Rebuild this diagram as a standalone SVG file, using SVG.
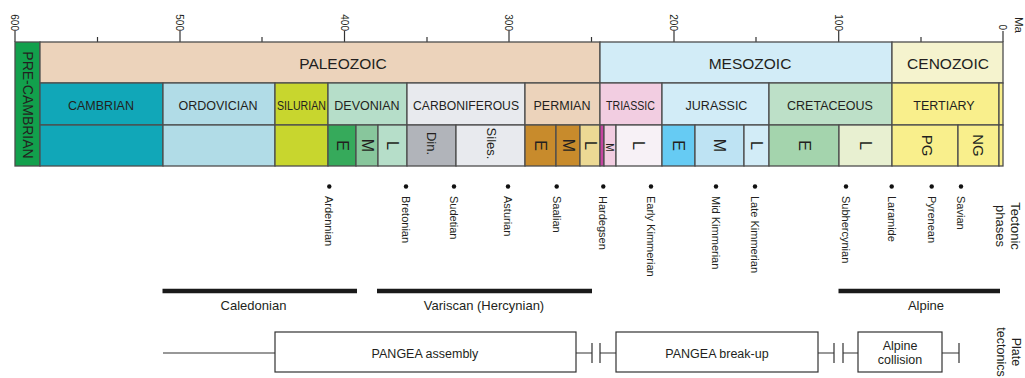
<svg xmlns="http://www.w3.org/2000/svg" width="1025" height="378" viewBox="0 0 1025 378">
<style>
text{font-family:"Liberation Sans",Arial,Helvetica,sans-serif;fill:#231f20}
.c{stroke:#4d4d4d;stroke-width:1.3}
.era{font-size:15.5px;text-anchor:middle}
.per{font-size:12.5px;text-anchor:middle}
.ep{font-size:16px;text-anchor:middle}
.ph{font-size:11px}
.tk{font-size:10px;text-anchor:end}
.tick{stroke:#333;stroke-width:1.2}
.oro{stroke:#1a1a1a;stroke-width:4.5}
.lab{font-size:13px;text-anchor:middle}
.box{fill:#fff;stroke:#333;stroke-width:1.2}
.ln{stroke:#333;stroke-width:1.2;fill:none}
.side{font-size:13px;text-anchor:middle}
</style>
<rect width="1025" height="378" fill="#fff"/>

<g id="axis">
  <g class="tick">
    <line x1="15" y1="31" x2="15" y2="42"/>
    <line x1="180" y1="31" x2="180" y2="42"/>
    <line x1="344.5" y1="31" x2="344.5" y2="42"/>
    <line x1="509" y1="31" x2="509" y2="42"/>
    <line x1="674" y1="31" x2="674" y2="42"/>
    <line x1="838.7" y1="31" x2="838.7" y2="42"/>
    <line x1="1003" y1="31" x2="1003" y2="42"/>
    <line x1="97.5" y1="37" x2="97.5" y2="42"/>
    <line x1="262" y1="37" x2="262" y2="42"/>
    <line x1="427" y1="37" x2="427" y2="42"/>
    <line x1="591.5" y1="37" x2="591.5" y2="42"/>
    <line x1="756" y1="37" x2="756" y2="42"/>
    <line x1="921" y1="37" x2="921" y2="42"/>
  </g>
  <text class="tk" transform="translate(15,31) rotate(90)" y="3.6">600</text>
  <text class="tk" transform="translate(180,31) rotate(90)" y="3.6">500</text>
  <text class="tk" transform="translate(344.5,31) rotate(90)" y="3.6">400</text>
  <text class="tk" transform="translate(509,31) rotate(90)" y="3.6">300</text>
  <text class="tk" transform="translate(674,31) rotate(90)" y="3.6">200</text>
  <text class="tk" transform="translate(838.7,31) rotate(90)" y="3.6">100</text>
  <text class="tk" transform="translate(1003,30) rotate(90)" y="3.6">0</text>
  <text style="font-size:11.5px" transform="translate(1014.5,17) rotate(90)">Ma</text>
</g>

<g id="eras">
  <g id="precambrian">
    <rect class="c" x="15" y="42" width="25" height="124" fill="#12a04c"/>
    <text style="font-size:14px;text-anchor:middle" transform="translate(27.5,105) rotate(90)" y="5">PRE-CAMBRIAN</text>
  </g>
  <g id="paleozoic">
    <rect class="c" x="40" y="42" width="560" height="41" fill="#ecd3bb"/>
    <text class="era" x="343" y="69">PALEOZOIC</text>
  </g>
  <g id="mesozoic">
    <rect class="c" x="600" y="42" width="292" height="41" fill="#d2ecf7"/>
    <text class="era" x="750" y="69">MESOZOIC</text>
  </g>
  <g id="cenozoic">
    <rect class="c" x="892" y="42" width="111" height="41" fill="#f5f3ce"/>
    <text class="era" x="948" y="69">CENOZOIC</text>
  </g>
</g>

<g id="periods">
  <g id="cambrian">
    <rect class="c" x="40" y="83" width="123" height="42" fill="#11a7b8"/>
    <rect class="c" x="40" y="125" width="123" height="41" fill="#11a7b8"/>
    <text class="per" x="101" y="110">CAMBRIAN</text>
  </g>
  <g id="ordovician">
    <rect class="c" x="163" y="83" width="112" height="42" fill="#b1dce7"/>
    <rect class="c" x="163" y="125" width="112" height="41" fill="#b1dce7"/>
    <text class="per" x="218" y="110">ORDOVICIAN</text>
  </g>
  <g id="silurian">
    <rect class="c" x="275" y="83" width="53" height="42" fill="#c8d62e"/>
    <rect class="c" x="275" y="125" width="53" height="41" fill="#c8d62e"/>
    <text class="per" x="301.5" y="110" textLength="49" lengthAdjust="spacingAndGlyphs">SILURIAN</text>
  </g>
  <g id="devonian">
    <rect class="c" x="328" y="83" width="79" height="42" fill="#b6dec9"/>
    <text class="per" x="367" y="110">DEVONIAN</text>
    <rect class="c" x="328" y="125" width="28" height="41" fill="#36aa5b"/>
    <rect class="c" x="356" y="125" width="22" height="41" fill="#88c69c"/>
    <rect class="c" x="378" y="125" width="29" height="41" fill="#b6dec9"/>
    <text class="ep" transform="translate(342,145.5) rotate(90)" y="5.5">E</text>
    <text class="ep" transform="translate(367,145.5) rotate(90)" y="5.5">M</text>
    <text class="ep" transform="translate(392,145.5) rotate(90)" y="5.5">L</text>
  </g>
  <g id="carboniferous">
    <rect class="c" x="407" y="83" width="118" height="42" fill="#e8eaee"/>
    <text class="per" x="466" y="110" textLength="106" lengthAdjust="spacingAndGlyphs">CARBONIFEROUS</text>
    <rect class="c" x="407" y="125" width="49" height="41" fill="#b1b4ba"/>
    <rect class="c" x="456" y="125" width="69" height="41" fill="#e8eaee"/>
    <text style="font-size:13px;text-anchor:middle" transform="translate(431,143.5) rotate(90)" y="4.5">Din.</text>
    <text style="font-size:13px;text-anchor:middle" transform="translate(491,143.5) rotate(90)" y="4.5">Siles.</text>
  </g>
  <g id="permian">
    <rect class="c" x="525" y="83" width="75" height="42" fill="#ecd3bb"/>
    <text class="per" x="562" y="110">PERMIAN</text>
    <rect class="c" x="525" y="125" width="31" height="41" fill="#c88b2c"/>
    <rect class="c" x="556" y="125" width="24" height="41" fill="#c88b2c"/>
    <rect class="c" x="580" y="125" width="20" height="41" fill="#ecd994"/>
    <text class="ep" transform="translate(540,145.5) rotate(90)" y="5.5">E</text>
    <text class="ep" transform="translate(568,145.5) rotate(90)" y="5.5">M</text>
    <text class="ep" transform="translate(590,145.5) rotate(90)" y="5.5">L</text>
  </g>
  <g id="triassic">
    <rect class="c" x="600" y="83" width="62" height="42" fill="#f2cde1"/>
    <text class="per" x="630.5" y="110" textLength="49" lengthAdjust="spacingAndGlyphs">TRIASSIC</text>
    <rect class="c" x="600" y="125" width="4" height="41" fill="#c644a0"/>
    <rect class="c" x="604" y="125" width="12" height="41" fill="#f2cde1"/>
    <rect class="c" x="616" y="125" width="46" height="41" fill="#f7f1f6"/>
    <text style="font-size:10px;text-anchor:middle" transform="translate(610,147.5) rotate(90)" y="3.6">M</text>
    <text class="ep" transform="translate(638,145.5) rotate(90)" y="5.5">L</text>
  </g>
  <g id="jurassic">
    <rect class="c" x="662" y="83" width="107" height="42" fill="#d2ecf7"/>
    <text class="per" x="716.5" y="110">JURASSIC</text>
    <rect class="c" x="662" y="125" width="33" height="41" fill="#66cbf3"/>
    <rect class="c" x="695" y="125" width="49" height="41" fill="#bee3f3"/>
    <rect class="c" x="744" y="125" width="25" height="41" fill="#d2ecf7"/>
    <text class="ep" transform="translate(678,145.5) rotate(90)" y="5.5">E</text>
    <text class="ep" transform="translate(719.5,145.5) rotate(90)" y="5.5">M</text>
    <text class="ep" transform="translate(756,145.5) rotate(90)" y="5.5">L</text>
  </g>
  <g id="cretaceous">
    <rect class="c" x="769" y="83" width="123" height="42" fill="#bde0c8"/>
    <text class="per" x="830" y="110">CRETACEOUS</text>
    <rect class="c" x="769" y="125" width="70" height="41" fill="#a4d4ad"/>
    <rect class="c" x="839" y="125" width="53" height="41" fill="#e8f0d1"/>
    <text class="ep" transform="translate(804,145.5) rotate(90)" y="5.5">E</text>
    <text class="ep" transform="translate(865.5,145.5) rotate(90)" y="5.5">L</text>
  </g>
  <g id="tertiary">
    <rect class="c" x="892" y="83" width="107" height="42" fill="#f9ef8c"/>
    <text class="per" x="944" y="110">TERTIARY</text>
    <rect class="c" x="892" y="125" width="66" height="41" fill="#f9ef8c"/>
    <rect class="c" x="958" y="125" width="41" height="41" fill="#f9ef8c"/>
    <text style="font-size:15px;text-anchor:middle" transform="translate(927,145.5) rotate(90)" y="5.2">PG</text>
    <text style="font-size:15px;text-anchor:middle" transform="translate(978.5,145.5) rotate(90)" y="5.2">NG</text>
  </g>
  <g id="quaternary">
    <rect class="c" x="999" y="83" width="4" height="42" fill="#f9ef8c"/>
    <rect class="c" x="999" y="125" width="4" height="41" fill="#f9ef8c"/>
  </g>
</g>

<g id="tectonic-phases">
  <g fill="#111">
    <circle cx="329.3" cy="186.5" r="2.2"/>
    <circle cx="406" cy="186.5" r="2.2"/>
    <circle cx="454" cy="186.5" r="2.2"/>
    <circle cx="508" cy="186.5" r="2.2"/>
    <circle cx="556.7" cy="186.5" r="2.2"/>
    <circle cx="603.3" cy="186.5" r="2.2"/>
    <circle cx="651" cy="186.5" r="2.2"/>
    <circle cx="716" cy="186.5" r="2.2"/>
    <circle cx="755" cy="186.5" r="2.2"/>
    <circle cx="846" cy="186.5" r="2.2"/>
    <circle cx="891.7" cy="186.5" r="2.2"/>
    <circle cx="931.7" cy="186.5" r="2.2"/>
    <circle cx="961" cy="186.5" r="2.2"/>
  </g>
  <text class="ph" transform="translate(328.5,196) rotate(90)" y="3.5">Ardennian</text>
  <text class="ph" transform="translate(405.5,196) rotate(90)" y="3.5">Bretonian</text>
  <text class="ph" transform="translate(453.5,196) rotate(90)" y="3.5">Sudetian</text>
  <text class="ph" transform="translate(507.5,196) rotate(90)" y="3.5">Asturian</text>
  <text class="ph" transform="translate(556,196) rotate(90)" y="3.5">Saalian</text>
  <text class="ph" transform="translate(602.5,196) rotate(90)" y="3.5">Hardegsen</text>
  <text class="ph" transform="translate(650.5,196) rotate(90)" y="3.5">Early Kimmerian</text>
  <text class="ph" transform="translate(715.5,196) rotate(90)" y="3.5">Mid Kimmerian</text>
  <text class="ph" transform="translate(754.5,196) rotate(90)" y="3.5">Late Kimmerian</text>
  <text class="ph" transform="translate(845.5,196) rotate(90)" y="3.5">Subhercynian</text>
  <text class="ph" transform="translate(891,196) rotate(90)" y="3.5">Laramide</text>
  <text class="ph" transform="translate(931,196) rotate(90)" y="3.5">Pyrenean</text>
  <text class="ph" transform="translate(960.5,196) rotate(90)" y="3.5">Savian</text>
  <g transform="translate(1010.5,226) rotate(90)">
    <text class="side">Tectonic</text>
    <text class="side" y="15">phases</text>
  </g>
</g>

<g id="orogenies">
  <g id="caledonian">
    <line class="oro" x1="162.5" y1="291" x2="357" y2="291"/>
    <text class="lab" x="253.5" y="310">Caledonian</text>
  </g>
  <g id="variscan">
    <line class="oro" x1="377" y1="291" x2="592" y2="291"/>
    <text class="lab" x="484" y="310">Variscan (Hercynian)</text>
  </g>
  <g id="alpine">
    <line class="oro" x1="838.5" y1="291" x2="1000" y2="291"/>
    <text class="lab" x="926" y="310">Alpine</text>
  </g>
</g>

<g id="connectors" class="ln">
  <path d="M163,353 H275"/>
  <path d="M576,353 H592 M592,343 V363"/>
  <path d="M600,343 V363 M600,353 H616"/>
  <path d="M818,353 H834 M834,343 V363"/>
  <path d="M843,343 V363 M843,353 H858"/>
  <path d="M942,353 H959 M959,343 V363"/>
</g>

<g id="plate-tectonics">
  <g id="pangea-assembly">
    <rect class="box" x="275" y="332" width="301" height="40"/>
    <text class="lab" style="font-size:12.5px" x="425" y="358">PANGEA assembly</text>
  </g>
  <g id="pangea-breakup">
    <rect class="box" x="616" y="332" width="202" height="40"/>
    <text class="lab" style="font-size:12.5px" x="717" y="358">PANGEA break-up</text>
  </g>
  <g id="alpine-collision">
    <rect class="box" x="858" y="332" width="84" height="40"/>
    <text class="lab" style="font-size:12.5px" x="900" y="350">Alpine</text>
    <text class="lab" style="font-size:12.5px" x="900" y="364">collision</text>
  </g>
  <g transform="translate(1011.5,352) rotate(90)">
    <text class="side" style="font-size:12.5px">Plate</text>
    <text class="side" style="font-size:12.5px" y="15">tectonics</text>
  </g>
</g>
</svg>
